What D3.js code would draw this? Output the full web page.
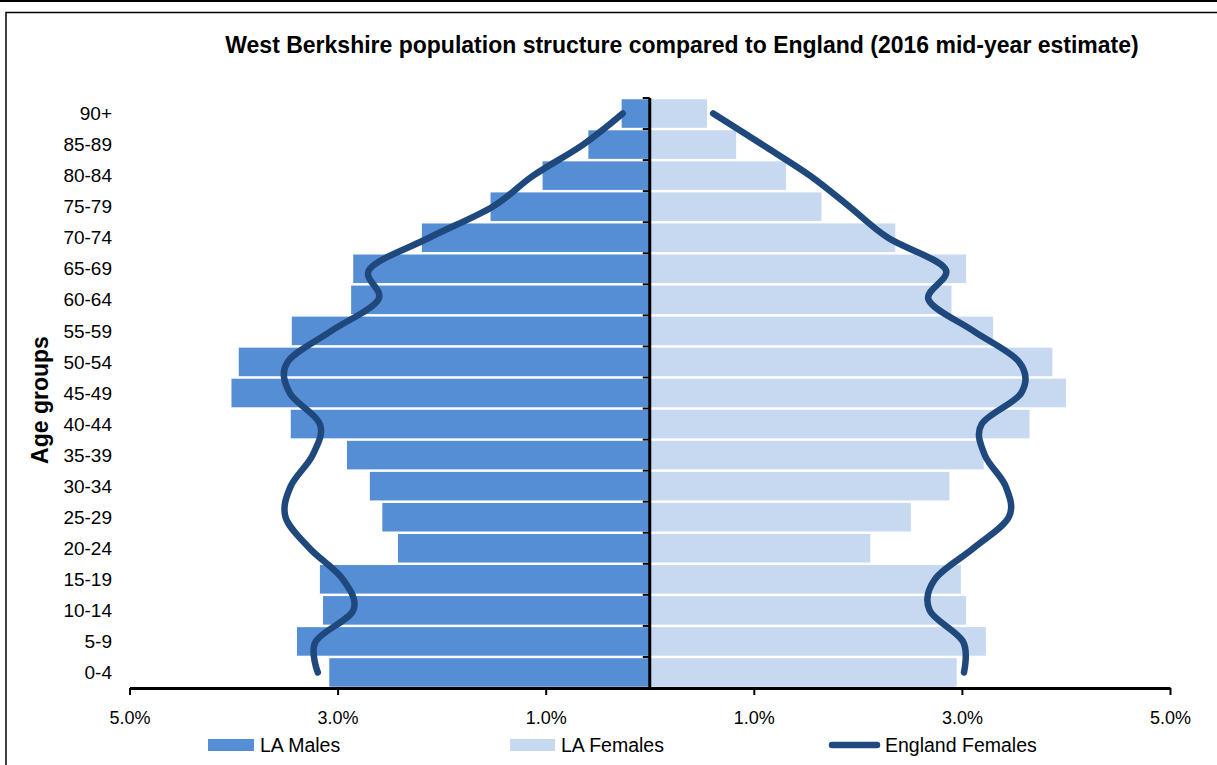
<!DOCTYPE html>
<html>
<head>
<meta charset="utf-8">
<script src="https://cdn.jsdelivr.net/npm/d3@7"></script>
<style>
  html, body { margin: 0; padding: 0; background: #fff; }
  svg { display: block; font-family: "Liberation Sans", Arial, sans-serif; }
</style>
</head>
<body>
<svg id="chart" width="1217" height="765"></svg>
<script>
// Age bands, youngest first (drawn bottom to top)
const ageGroups = ["0-4","5-9","10-14","15-19","20-24","25-29","30-34","35-39","40-44",
  "45-49","50-54","55-59","60-64","65-69","70-74","75-79","80-84","85-89","90+"];

// Share of total population (%), West Berkshire
const laMales   = [3.08, 3.39, 3.14, 3.17, 2.42, 2.57, 2.69, 2.91, 3.45, 4.02, 3.95, 3.44, 2.87, 2.85, 2.19, 1.53, 1.03, 0.59, 0.27];
const laFemales = [2.95, 3.23, 3.04, 2.99, 2.12, 2.51, 2.88, 3.21, 3.65, 4.00, 3.87, 3.30, 2.90, 3.04, 2.36, 1.65, 1.31, 0.83, 0.55];

// Share of total population (%), England
const englandMales   = [3.19, 3.21, 2.85, 2.95, 3.27, 3.50, 3.45, 3.24, 3.17, 3.46, 3.48, 3.06, 2.61, 2.69, 2.12, 1.51, 1.12, 0.64, 0.26];
const englandFemales = [3.02, 3.01, 2.69, 2.74, 3.11, 3.45, 3.42, 3.22, 3.19, 3.57, 3.55, 3.11, 2.68, 2.84, 2.29, 1.92, 1.54, 1.08, 0.61];

const xTicks = [-5, -3, -1, 1, 3, 5];

const titleText = "West Berkshire population structure compared to England (2016 mid-year estimate)";
const yTitle = "Age groups";
const legendItems = ["LA Males", "LA Females", "England Females"];

const colMale = "#558ED5", colFemale = "#C6D9F0", colLine = "#1F497D";

const svg = d3.select("#chart");

// outer frame
svg.append("rect").attr("x", 0).attr("y", 0).attr("width", 1217).attr("height", 2).attr("fill", "#000");
svg.append("rect").attr("x", 6).attr("y", 12.5).attr("width", 1300).attr("height", 900)
  .attr("fill", "none").attr("stroke", "#000").attr("stroke-width", 1.5);

const plot = { left: 129.5, right: 1170, top: 98, bottom: 688 };

const x = d3.scaleLinear().domain([-5, 5]).range([plot.left, plot.right]);
const y = d3.scaleBand().domain(ageGroups.slice().reverse())
  .range([plot.top, plot.bottom]).paddingInner(0.08).paddingOuter(0.04);

// bars
const g = svg.append("g");
g.selectAll("rect.m").data(ageGroups).join("rect").attr("class", "m")
  .attr("x", (d, i) => x(-laMales[i])).attr("width", (d, i) => x(0) - x(-laMales[i]))
  .attr("y", d => y(d)).attr("height", y.bandwidth()).attr("fill", colMale);
g.selectAll("rect.f").data(ageGroups).join("rect").attr("class", "f")
  .attr("x", x(0)).attr("width", (d, i) => x(laFemales[i]) - x(0))
  .attr("y", d => y(d)).attr("height", y.bandwidth()).attr("fill", colFemale);

// England profile lines
const line = d3.line().curve(d3.curveCatmullRom.alpha(0))
  .x(d => d[0]).y(d => d[1]);
const yc = d => y(d) + y.bandwidth() / 2;
const malePts = ageGroups.map((a, i) => [x(-englandMales[i]), yc(a)]);
const femalePts = ageGroups.map((a, i) => [x(englandFemales[i]), yc(a)]);
[malePts, femalePts].forEach(p => {
  svg.append("path").attr("d", line(p)).attr("fill", "none")
    .attr("stroke", colLine).attr("stroke-width", 6.5)
    .attr("stroke-linecap", "round").attr("stroke-linejoin", "round");
});

// centre axis with category ticks
const bounds = d3.range(ageGroups.length + 1).map(k => plot.top + k * (plot.bottom - plot.top) / ageGroups.length);
svg.append("g").selectAll("line").data(bounds).join("line")
  .attr("x1", x(0) - 7).attr("x2", x(0)).attr("y1", d => d).attr("y2", d => d)
  .attr("stroke", "#000").attr("stroke-width", 2);
svg.append("line").attr("x1", x(0)).attr("x2", x(0)).attr("y1", plot.top).attr("y2", plot.bottom)
  .attr("stroke", "#000").attr("stroke-width", 3);

// category labels
svg.append("g").selectAll("text").data(ageGroups).join("text")
  .attr("x", 112).attr("y", d => yc(d)).attr("dy", "0.35em")
  .attr("text-anchor", "end").attr("font-size", 19).attr("fill", "#000").text(d => d);

// bottom axis
const xAxis = d3.axisBottom(x).tickValues(xTicks)
  .tickFormat(d => Math.abs(d).toFixed(1) + "%").tickSize(7).tickSizeOuter(0);
const ax = svg.append("g").attr("transform", `translate(0,${plot.bottom})`).call(xAxis);
ax.select(".domain").attr("stroke", "#000").attr("stroke-width", 3);
ax.selectAll(".tick line").attr("stroke", "#000").attr("stroke-width", 2);
ax.selectAll(".tick text").attr("font-size", 18).attr("font-family", "Liberation Sans, Arial, sans-serif")
  .attr("fill", "#000").attr("dy", "1.45em");

// title
svg.append("text").attr("x", 682).attr("y", 53).attr("text-anchor", "middle")
  .attr("font-size", 23).attr("font-weight", "bold").text(titleText);

// axis title
svg.append("text").attr("transform", "translate(48,400) rotate(-90)")
  .attr("text-anchor", "middle").attr("font-size", 23).attr("font-weight", "bold").text(yTitle);

// legend
const lg = svg.append("g");
const lgY = 745;
lg.append("rect").attr("x", 208).attr("y", lgY - 6).attr("width", 46).attr("height", 12).attr("fill", colMale);
lg.append("text").attr("x", 260).attr("y", lgY).attr("dy", "0.35em").attr("font-size", 19.5).text(legendItems[0]);
lg.append("rect").attr("x", 510).attr("y", lgY - 6).attr("width", 45).attr("height", 12).attr("fill", colFemale);
lg.append("text").attr("x", 561).attr("y", lgY).attr("dy", "0.35em").attr("font-size", 19.5).text(legendItems[1]);
lg.append("line").attr("x1", 832).attr("x2", 877).attr("y1", lgY).attr("y2", lgY)
  .attr("stroke", colLine).attr("stroke-width", 6.5).attr("stroke-linecap", "round");
lg.append("text").attr("x", 885).attr("y", lgY).attr("dy", "0.35em").attr("font-size", 19.5).text(legendItems[2]);
</script>
</body>
</html>
